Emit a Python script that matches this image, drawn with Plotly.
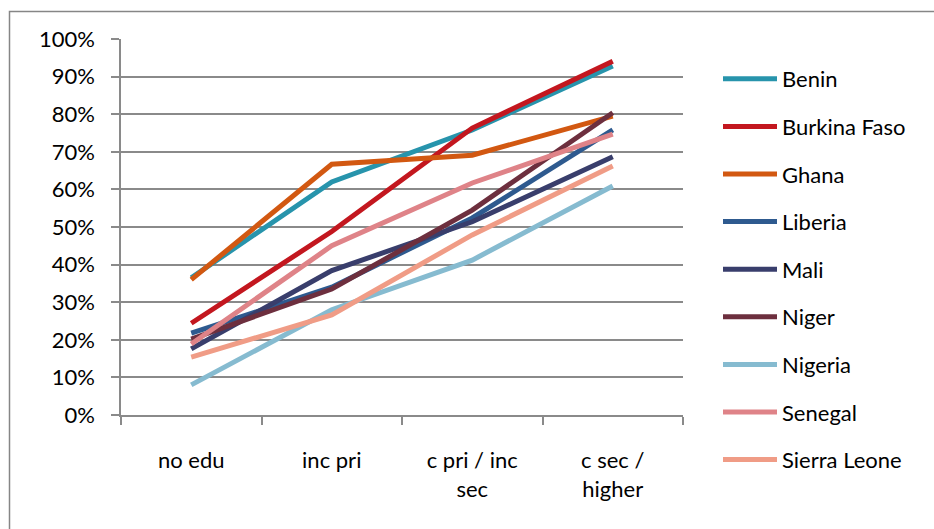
import plotly.graph_objects as go

categories = ["no edu", "inc pri", "c pri / inc<br>sec", "c sec /<br>higher"]
countries = ["Benin", "Burkina Faso", "Ghana", "Liberia", "Mali", "Niger",
             "Nigeria", "Senegal", "Sierra Leone"]

benin = [0.365, 0.62, 0.758, 0.928]
burkina_faso = [0.244, 0.488, 0.763, 0.941]
ghana = [0.36, 0.667, 0.691, 0.795]
liberia = [0.218, 0.34, 0.524, 0.758]
mali = [0.176, 0.384, 0.514, 0.687]
niger = [0.202, 0.335, 0.545, 0.804]
nigeria = [0.08, 0.28, 0.412, 0.609]
senegal = [0.189, 0.45, 0.617, 0.747]
sierra_leone = [0.154, 0.266, 0.479, 0.662]

series = [benin, burkina_faso, ghana, liberia, mali, niger, nigeria, senegal, sierra_leone]
colors = ["#2794ac", "#c3171f", "#d25811", "#2e5a8f", "#393e6c", "#6d2f3e",
          "#86bbd0", "#df8388", "#f09c86"]

W, H = 934, 529
L, R, T, B = 121, 251, 39, 114
pw, ph = W - L - R, H - T - B

def px_x(p):
    return (p - L) / pw

def px_y(p):
    return (H - B - p) / ph

FONT = "Lato"
FS = 22

fig = go.Figure()
for name, vals, col in zip(countries, series, colors):
    fig.add_trace(go.Scatter(
        x=categories, y=vals, name=name, mode="lines",
        line=dict(color=col, width=5), legendgroup=name,
    ))

grid = "#8a8a8a"
fig.update_layout(
    width=W, height=H,
    margin=dict(l=L, r=R, t=T, b=B, pad=0),
    paper_bgcolor="white", plot_bgcolor="white",
    font=dict(family=FONT, size=FS, color="black"),
    showlegend=True,
    legend=dict(
        x=px_x(718), y=px_y(58), xanchor="left", yanchor="top",
        font=dict(family=FONT, size=FS, color="black"),
        tracegroupgap=16, itemwidth=54, bgcolor="rgba(0,0,0,0)",
        maxheight=1000,
    ),
    xaxis=dict(
        type="category", range=[-0.5, 3.5], showgrid=False,
        showline=True, linecolor=grid, linewidth=1.5,
        ticks="outside", ticklen=8, tickcolor=grid, tickwidth=1.5,
        tickson="boundaries", ticklabelstandoff=25,
        tickfont=dict(family=FONT, size=FS),
        fixedrange=True,
    ),
    yaxis=dict(
        range=[0, 1], tickformat=".0%", dtick=0.1, tick0=0,
        showgrid=True, gridcolor=grid, gridwidth=1.5,
        showline=True, linecolor=grid, linewidth=1.5,
        ticks="outside", ticklen=8, tickcolor=grid, tickwidth=1.5,
        ticklabelstandoff=12, zeroline=False,
        tickfont=dict(family=FONT, size=FS),
        fixedrange=True,
    ),
    shapes=[dict(
        type="rect", xref="paper", yref="paper",
        x0=px_x(9.5), x1=px_x(945), y0=px_y(545), y1=px_y(11.5),
        line=dict(color="#868686", width=1.5), fillcolor="rgba(0,0,0,0)",
        layer="below",
    )],
)

fig.write_html("out.html", config={"displayModeBar": False})
